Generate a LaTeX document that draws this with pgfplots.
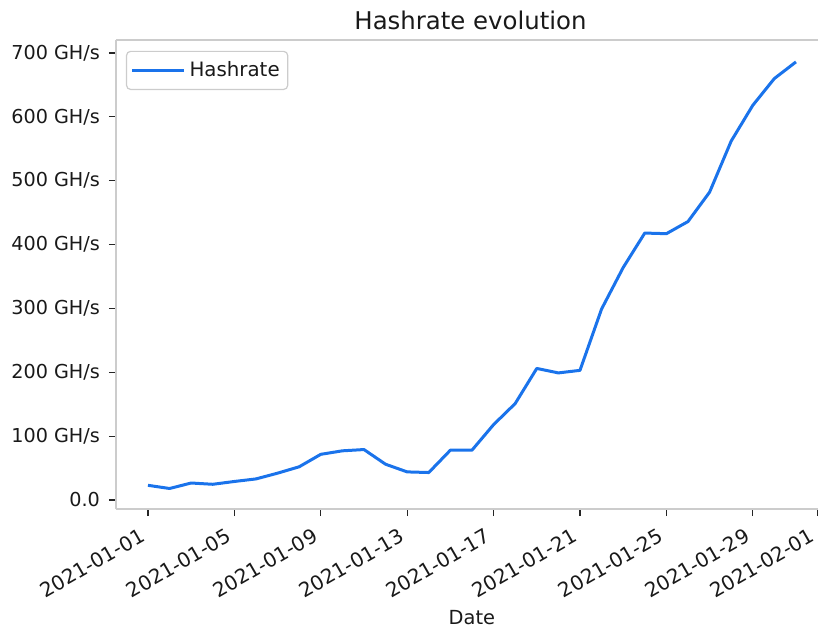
\documentclass[border=0pt]{standalone}
\usepackage{pgfplots}
\pgfplotsset{compat=1.18}
\usepackage{fontspec}
\setmainfont{DejaVu Sans}
\definecolor{hashblue}{RGB}{26,115,235}
\definecolor{spine}{RGB}{204,204,204}
\begin{document}
\begin{tikzpicture}
\path[use as bounding box] (-58pt,-58.5pt) rectangle (351pt,254.5pt);
\begin{axis}[
  at={(0,0)}, anchor=south west,
  scale only axis, width=351pt, height=234.5pt,
  xmin=-1.48, xmax=31.02, ymin=-14.1, ymax=720.3,
  axis x line*=box, axis y line*=left,
  axis line style={draw=spine, line width=0.75pt},
  tick pos=left, tick align=outside, major tick length=3.5pt,
  tick style={draw=black!85, line width=0.6pt},
  xtick={0,4,8,12,16,20,24,28,31},
  xticklabels={2021-01-01,2021-01-05,2021-01-09,2021-01-13,2021-01-17,2021-01-21,2021-01-25,2021-01-29,2021-02-01},
  ytick={0,100,200,300,400,500,600,700},
  yticklabels={0.0,100 GH/s,200 GH/s,300 GH/s,400 GH/s,500 GH/s,600 GH/s,700 GH/s},
  yticklabel style={font=\fontsize{9.6}{11}\selectfont, text=black!90, xshift=-1pt},
  xticklabel style={xshift=-4.5pt, yshift=-5.5pt, font=\fontsize{10}{12}\selectfont, text=black!90, rotate=30, anchor=north east, inner sep=0pt},
  xlabel={Date},
  xlabel style={at={(axis description cs:0.507,0)}, anchor=base, yshift=-57.5pt, font=\fontsize{9.7}{11}\selectfont, text=black!90},
  every axis title shift=0pt,
  title={Hashrate evolution},
  title style={at={(axis description cs:0.505,1)}, anchor=base, yshift=5pt, font=\fontsize{12.2}{14}\selectfont, text=black!90},
  legend style={at={(axis description cs:0.0142,0.977)}, anchor=north west, draw=spine, rounded corners=2pt, line width=0.6pt, font=\fontsize{9.9}{11}\selectfont, inner xsep=2pt, inner ysep=3pt, text=black!90},
  legend cell align=left,
  legend image code/.code={\draw[#1] (0pt,0pt) -- (21.5pt,0pt); \path (0pt,0pt) -- (26pt,0pt);},
]
\addplot[hashblue, line width=1.5pt, line join=round] coordinates {
(0,23) (1,18) (2,26.6) (3,24.6) (4,29) (5,33) (6,42) (7,52) (8,71.5) (9,77)
(10,79) (11,56) (12,44) (13,43) (14,78) (15,78) (16,118) (17,151) (18,206) (19,199)
(20,203) (21,299) (22,364) (23,418) (24,417) (25,436) (26,482) (27,562) (28,618) (29,660) (30,686)
};
\addlegendentry{Hashrate}
\end{axis}
\end{tikzpicture}
\end{document}
